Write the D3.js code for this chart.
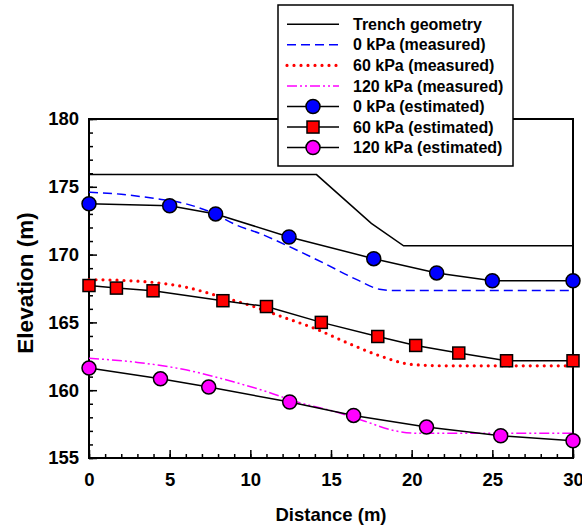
<!DOCTYPE html>
<html>
<head>
<meta charset="utf-8">
<script src="https://cdn.jsdelivr.net/npm/d3@7"></script>
<style>
  body { margin: 0; background: #fff; }
  svg text { font-family: "Liberation Sans", Arial, sans-serif; font-weight: bold; fill: #000; }
</style>
</head>
<body>
<div id="chart"></div>
<script>
// trench profile and the six elevation series (distance m, elevation m)
var trench = [[0, 175.9], [14.1, 175.9], [17.5, 172.3], [19.5, 170.65], [30, 170.65]];

var measured0 = [[0, 174.6], [2, 174.45], [4, 174.15], [6, 173.75], [7.7, 173.05], [9.1, 172.2],
  [10.6, 171.55], [12.4, 170.6], [14.5, 169.4], [16.6, 168.15], [18, 167.45], [19, 167.35], [30, 167.35]];
var measured60 = [[0, 168.15], [2, 168.1], [4, 167.95], [6, 167.6], [8, 166.95], [10, 166.25],
  [12, 165.4], [14, 164.55], [16, 163.5], [18, 162.55], [20, 161.9], [22, 161.8], [30, 161.8]];
var measured120 = [[0, 162.35], [3, 162.05], [6, 161.5], [9, 160.6], [11, 159.9], [13, 159.1],
  [15, 158.5], [17, 157.75], [19, 157.0], [20.5, 156.82], [30, 156.82]];

var estimated0 = [[0, 173.75], [5, 173.6], [7.85, 173.0], [12.4, 171.3], [17.65, 169.7],
  [21.55, 168.65], [25, 168.07], [30, 168.07]];
var estimated60 = [[0, 167.72], [1.7, 167.53], [3.97, 167.33], [8.3, 166.6], [11.0, 166.17],
  [14.4, 165.0], [17.9, 163.96], [20.25, 163.3], [22.92, 162.74], [25.88, 162.17], [30, 162.17]];
var estimated120 = [[0, 161.63], [4.43, 160.84], [7.42, 160.23], [12.44, 159.13], [16.4, 158.14],
  [20.92, 157.28], [25.52, 156.64], [30, 156.27]];

var xTicks = [0, 5, 10, 15, 20, 25, 30];
var yTicks = [155, 160, 165, 170, 175, 180];
var legendLabels = ["Trench geometry", "0 kPa (measured)", "60 kPa (measured)", "120 kPa (measured)",
  "0 kPa (estimated)", "60 kPa (estimated)", "120 kPa (estimated)"];

var W = 582, H = 527;
var margin = {top: 119, right: 9, bottom: 69, left: 89};
var width = W - margin.left - margin.right;
var height = H - margin.top - margin.bottom;

var svg = d3.select("#chart").append("svg")
  .attr("width", W).attr("height", H);

var g = svg.append("g")
  .attr("transform", "translate(" + margin.left + "," + margin.top + ")");

var x = d3.scaleLinear().domain([0, 30]).range([0, width]);
var y = d3.scaleLinear().domain([155, 180]).range([height, 0]);

// minor ticks first, then major ticks with labels
g.append("g")
  .attr("transform", "translate(0," + height + ")")
  .call(d3.axisBottom(x).tickValues(d3.range(0, 31, 1)).tickSize(-4).tickFormat(""));
g.append("g")
  .attr("transform", "translate(0," + height + ")")
  .call(d3.axisBottom(x).tickValues(xTicks).tickSize(-8).tickPadding(15))
  .selectAll("text").style("font-size", "18.5px");

g.append("g")
  .call(d3.axisLeft(y).tickValues(d3.range(155, 181, 1)).tickSize(-4).tickFormat(""));
g.append("g")
  .call(d3.axisLeft(y).tickValues(yTicks).tickSize(-8).tickPadding(10))
  .selectAll("text").style("font-size", "18.5px");

g.selectAll(".domain").remove();
g.selectAll(".tick line").attr("stroke", "#000").attr("stroke-width", 1.5);

// frame
g.append("rect")
  .attr("width", width).attr("height", height)
  .attr("fill", "none").attr("stroke", "#000").attr("stroke-width", 2);

var straight = d3.line().x(function(d) { return x(d[0]); }).y(function(d) { return y(d[1]); });
var smooth = d3.line().curve(d3.curveMonotoneX)
  .x(function(d) { return x(d[0]); }).y(function(d) { return y(d[1]); });

var plot = g.append("g");

plot.append("path").datum(trench).attr("d", straight)
  .attr("fill", "none").attr("stroke", "#000").attr("stroke-width", 1.5);

var measuredStyles = [
  {data: measured0, color: "#0000ff", width: 1.5, dash: "9,5", cap: "butt"},
  {data: measured60, color: "#ff0000", width: 3.2, dash: "0,7", cap: "round"},
  {data: measured120, color: "#ff00ff", width: 1.5, dash: "10,3,2,3,2,3", cap: "butt"}
];
measuredStyles.forEach(function(s) {
  plot.append("path").datum(s.data).attr("d", smooth)
    .attr("fill", "none").attr("stroke", s.color).attr("stroke-width", s.width)
    .attr("stroke-dasharray", s.dash).attr("stroke-linecap", s.cap);
});

var estimatedStyles = [
  {data: estimated0, color: "#0000ff", shape: "circle"},
  {data: estimated60, color: "#ff0000", shape: "square"},
  {data: estimated120, color: "#ff00ff", shape: "circle"}
];

function drawMarker(sel, shape, color) {
  if (shape === "circle") {
    sel.append("circle").attr("r", 7);
  } else {
    sel.append("rect").attr("x", -6).attr("y", -6).attr("width", 12).attr("height", 12);
  }
  sel.selectAll("circle, rect").attr("fill", color).attr("stroke", "#000").attr("stroke-width", 1.5);
}

estimatedStyles.forEach(function(s) {
  plot.append("path").datum(s.data).attr("d", straight)
    .attr("fill", "none").attr("stroke", "#000").attr("stroke-width", 1.5);
  plot.selectAll(null).data(s.data).enter().append("g")
    .attr("transform", function(d) { return "translate(" + x(d[0]) + "," + y(d[1]) + ")"; })
    .each(function() { drawMarker(d3.select(this), s.shape, s.color); });
});

// legend
var legend = svg.append("g").attr("transform", "translate(278,5)");
legend.append("rect")
  .attr("width", 235).attr("height", 161)
  .attr("fill", "#fff").attr("stroke", "#000").attr("stroke-width", 1.5);

var legendItems = [
  {line: {color: "#000", width: 1.5, dash: null, cap: "butt"}},
  {line: measuredStyles[0]},
  {line: measuredStyles[1]},
  {line: measuredStyles[2]},
  {marker: estimatedStyles[0]},
  {marker: estimatedStyles[1]},
  {marker: estimatedStyles[2]}
];

legendItems.forEach(function(item, i) {
  var row = legend.append("g").attr("transform", "translate(0," + (19.3 + i * 20.55) + ")");
  if (item.line) {
    row.append("line").attr("x1", 9).attr("x2", 61)
      .attr("stroke", item.line.color).attr("stroke-width", item.line.width)
      .attr("stroke-dasharray", item.line.dash).attr("stroke-linecap", item.line.cap);
  } else {
    row.append("line").attr("x1", 9).attr("x2", 61)
      .attr("stroke", "#000").attr("stroke-width", 1.5);
    var m = row.append("g").attr("transform", "translate(35,0)");
    drawMarker(m, item.marker.shape, item.marker.color);
  }
  row.append("text").attr("x", 75).attr("dy", "0.35em")
    .style("font-size", "16px").text(legendLabels[i]);
});

// axis titles
svg.append("text")
  .attr("x", margin.left + width / 2).attr("y", 521)
  .attr("text-anchor", "middle").style("font-size", "18.5px")
  .text("Distance (m)");

svg.append("text")
  .attr("transform", "translate(33,283) rotate(-90)")
  .attr("text-anchor", "middle").style("font-size", "22.5px")
  .text("Elevation (m)");
</script>
</body>
</html>
